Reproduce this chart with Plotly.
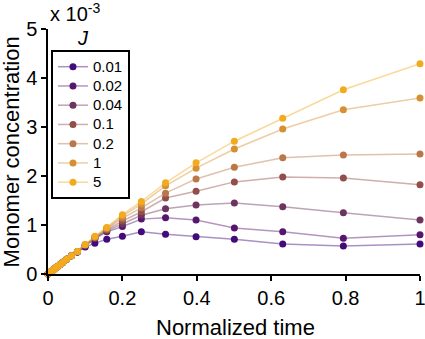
import plotly.graph_objects as go

# Normalized time (ascending)
time = [0, 0.004, 0.005, 0.006, 0.008, 0.010, 0.013, 0.016, 0.020, 0.025, 0.032,
        0.040, 0.050, 0.063, 0.079, 0.100, 0.126, 0.158, 0.200, 0.251, 0.316,
        0.398, 0.501, 0.631, 0.794, 1.0]

# Monomer concentration (x 10^-3) for each J
c_001 = [0, 0.024, 0.03, 0.036, 0.048, 0.06, 0.078, 0.096, 0.12, 0.15, 0.19,
         0.24, 0.30, 0.37, 0.45, 0.55, 0.63, 0.71, 0.77, 0.86, 0.81,
         0.76, 0.71, 0.61, 0.57, 0.61]
c_002 = [0, 0.024, 0.03, 0.036, 0.048, 0.06, 0.078, 0.096, 0.12, 0.15, 0.19,
         0.24, 0.30, 0.37, 0.45, 0.58, 0.72, 0.86, 0.97, 1.12, 1.15,
         1.10, 0.94, 0.86, 0.73, 0.80]
c_004 = [0, 0.024, 0.03, 0.036, 0.048, 0.06, 0.078, 0.096, 0.12, 0.15, 0.19,
         0.24, 0.30, 0.37, 0.45, 0.58, 0.73, 0.88, 1.02, 1.20, 1.33,
         1.41, 1.45, 1.37, 1.25, 1.10]
c_01 = [0, 0.024, 0.03, 0.036, 0.048, 0.06, 0.078, 0.096, 0.12, 0.15, 0.19,
        0.24, 0.30, 0.37, 0.46, 0.59, 0.74, 0.90, 1.08, 1.27, 1.55,
        1.69, 1.88, 1.98, 1.96, 1.82]
c_02 = [0, 0.024, 0.03, 0.036, 0.048, 0.06, 0.078, 0.096, 0.12, 0.15, 0.19,
        0.24, 0.30, 0.37, 0.46, 0.59, 0.75, 0.92, 1.14, 1.35, 1.65,
        1.94, 2.18, 2.37, 2.43, 2.45]
c_1 = [0, 0.024, 0.03, 0.036, 0.048, 0.06, 0.078, 0.096, 0.12, 0.15, 0.19,
       0.24, 0.30, 0.37, 0.46, 0.60, 0.76, 0.94, 1.18, 1.43, 1.80,
       2.16, 2.55, 2.96, 3.35, 3.59]
c_5 = [0, 0.024, 0.03, 0.036, 0.048, 0.06, 0.078, 0.096, 0.12, 0.15, 0.19,
       0.24, 0.30, 0.37, 0.46, 0.60, 0.77, 0.95, 1.21, 1.48, 1.86,
       2.27, 2.71, 3.18, 3.76, 4.29]

labels = ["0.01", "0.02", "0.04", "0.1", "0.2", "1", "5"]
series = [c_001, c_002, c_004, c_01, c_02, c_1, c_5]
colors = [(66, 10, 122), (86, 22, 110), (108, 52, 94), (146, 78, 74),
          (186, 120, 72), (214, 144, 50), (242, 170, 30)]

x_ticks = [0, 0.2, 0.4, 0.6, 0.8, 1]
x_ticktext = ["0", "0.2", "0.4", "0.6", "0.8", "1"]
y_ticks = [0, 1, 2, 3, 4, 5]

FONT = "Arial, Liberation Sans, sans-serif"

fig = go.Figure()
for lab, vals, (r, g, b) in zip(labels, series, colors):
    fig.add_trace(go.Scatter(
        x=time, y=vals,
        name=f'<span style="font-size:15px">{lab}</span>',
        mode="lines+markers",
        line=dict(color=f"rgba({r},{g},{b},0.45)", width=1.5),
        marker=dict(color=f"rgb({r},{g},{b})", size=7),
        cliponaxis=False,
    ))

fig.update_layout(
    width=425, height=339,
    margin=dict(l=48, r=5, t=29, b=65),
    paper_bgcolor="white", plot_bgcolor="white",
    font=dict(family=FONT, size=20, color="black"),
    showlegend=True,
    legend=dict(
        x=0.008, y=0.914, xanchor="left", yanchor="top",
        bordercolor="black", borderwidth=2, bgcolor="white",
        font=dict(size=12.5, family=FONT),
        tracegroupgap=0, itemwidth=30,
    ),
    xaxis=dict(
        range=[0, 1], tickvals=x_ticks, ticktext=x_ticktext,
        showline=True, linecolor="black", linewidth=1.5,
        ticks="outside", ticklen=5, tickwidth=1.5, tickcolor="black",
        showgrid=False, zeroline=False, automargin=False,
        ticklabeloverflow="allow",
        tickfont=dict(size=20),
    ),
    yaxis=dict(
        range=[0, 5], tickvals=y_ticks,
        showline=True, linecolor="black", linewidth=1.5,
        ticks="outside", ticklen=5, tickwidth=1.5, tickcolor="black",
        showgrid=False, zeroline=False, automargin=False,
        ticklabeloverflow="allow",
        tickfont=dict(size=20),
    ),
    annotations=[
        dict(text="Normalized time", xref="paper", yref="paper",
             x=0.503, y=-0.218, xanchor="center", yanchor="middle",
             showarrow=False, font=dict(size=22)),
        dict(text="Monomer concentration", xref="paper", yref="paper",
             x=-0.097, y=0.5, xanchor="center", yanchor="middle",
             textangle=-90, showarrow=False, font=dict(size=22)),
        dict(text="x 10<sup>-3</sup>", xref="paper", yref="paper",
             x=0.0, y=1.01, xanchor="left", yanchor="bottom",
             showarrow=False, font=dict(size=20)),
        dict(text="<i>J</i>", xref="paper", yref="paper",
             x=0.094, y=0.963, xanchor="center", yanchor="middle",
             showarrow=False, font=dict(size=20)),
    ],
)

fig.write_html("out.html",
               config={"displayModeBar": False},
               post_script="document.body.style.margin='0';document.body.style.overflow='hidden';")
